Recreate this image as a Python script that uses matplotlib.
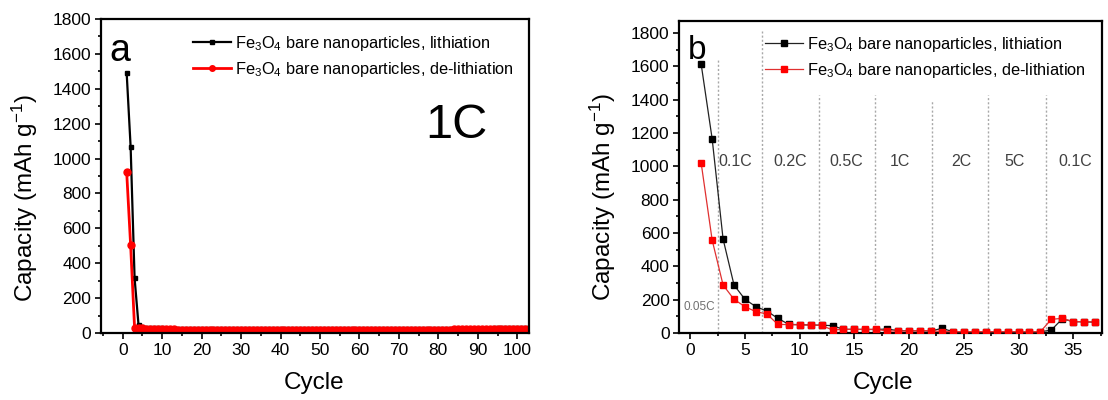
import matplotlib
matplotlib.use("Agg")
import matplotlib.pyplot as plt
from matplotlib.ticker import MultipleLocator

plt.rcParams['font.family'] = ['Liberation Sans', 'DejaVu Sans']
plt.rcParams['mathtext.fontset'] = 'custom'
plt.rcParams['mathtext.rm'] = 'Liberation Sans'
plt.rcParams['mathtext.it'] = 'Liberation Sans:italic'

# panel a : 1C cycling
cycle_a = list(range(1, 104))
lith_a = [1488, 1066, 315, 46, 36, 31, 28, 27, 26, 26,
          25, 25, 25, 24, 24, 24, 24, 24, 24, 24,
          24, 24, 23, 23, 23, 23, 23, 23, 23, 23,
          23, 23, 23, 23, 23, 23, 23, 23, 23, 23,
          23, 22, 22, 22, 22, 22, 22, 22, 22, 22,
          22, 22, 22, 22, 22, 22, 22, 22, 22, 22,
          22, 22, 22, 22, 22, 23, 23, 23, 23, 23,
          23, 23, 23, 23, 24, 24, 24, 24, 24, 24,
          24, 24, 24, 25, 25, 25, 25, 25, 25, 25,
          25, 25, 25, 26, 26, 26, 26, 26, 26, 26,
          26, 26, 26]
delith_a = [921, 502, 28, 30, 26, 24, 23, 22, 22, 21,
            21, 21, 21, 20, 20, 20, 20, 20, 20, 20,
            20, 20, 19, 19, 19, 19, 19, 19, 19, 19,
            19, 19, 19, 19, 19, 19, 19, 19, 19, 19,
            19, 18, 18, 18, 18, 18, 18, 18, 18, 18,
            18, 18, 18, 18, 18, 18, 18, 18, 18, 18,
            18, 18, 18, 18, 18, 19, 19, 19, 19, 19,
            19, 19, 19, 19, 20, 20, 20, 20, 20, 20,
            20, 20, 20, 21, 21, 21, 21, 21, 21, 21,
            21, 21, 21, 22, 22, 22, 22, 22, 22, 22,
            22, 22, 22]

# panel b : rate capability
cycle_b = list(range(1, 38))
lith_b = [1612, 1166, 564, 288, 202, 158, 132, 88, 52, 50,
          48, 47, 44, 22, 22, 21, 21, 24, 14, 13,
          13, 12, 28, 8, 8, 8, 7, 7, 7, 7,
          7, 7, 18, 85, 68, 67, 65]
delith_b = [1019, 558, 288, 202, 158, 128, 114, 52, 50, 49,
            47, 46, 18, 22, 22, 22, 22, 12, 12, 12,
            14, 14, 8, 8, 8, 8, 8, 8, 8, 8,
            8, 8, 82, 88, 68, 68, 66]
rate_labels = ['0.1C', '0.2C', '0.5C', '1C', '2C', '5C', '0.1C']
rate_x = [4.1, 9.1, 14.3, 19.2, 24.8, 29.6, 35.2]
bounds = [2.58, 6.6, 11.8, 16.9, 22.1, 27.2, 32.5]
bound_tops = [1650, 1810, 1430, 1430, 1400, 1430, 1430]

lab1 = 'Fe$_3$O$_4$ bare nanoparticles, lithiation'
lab2 = 'Fe$_3$O$_4$ bare nanoparticles, de-lithiation'

fig = plt.figure(figsize=(11.08, 4.0), dpi=100)
ax1 = fig.add_axes([0.0912, 0.1675, 0.3863, 0.785])
ax2 = fig.add_axes([0.6131, 0.1675, 0.3812, 0.781])


def style(ax):
    for s in ax.spines.values():
        s.set_linewidth(1.6)
    ax.tick_params(which='both', direction='out', top=False, right=False,
                   labelsize=12.5, width=1.2)
    ax.tick_params(which='major', length=4, pad=3)
    ax.tick_params(which='minor', length=2.5)
    ax.set_xlabel('Cycle', fontsize=17.5)
    ax.set_ylabel('Capacity (mAh g$^{-1}$)', fontsize=17.5)


# ---- a ----
ax1.plot(cycle_a, lith_a, color='black', lw=1.6, marker='s', ms=3.5, label=lab1)
ax1.plot(cycle_a, delith_a, color='#ff0000', lw=2.0, marker='o', ms=5, label=lab2)
ax1.set_xlim(-5.5, 103)
ax1.set_ylim(0, 1800)
ax1.xaxis.set_major_locator(MultipleLocator(10))
ax1.xaxis.set_minor_locator(MultipleLocator(5))
ax1.yaxis.set_major_locator(MultipleLocator(200))
ax1.yaxis.set_minor_locator(MultipleLocator(100))
style(ax1)
ax1.xaxis.set_label_coords(0.498, -0.125)
ax1.yaxis.set_label_coords(-0.142, 0.43)
leg1 = ax1.legend(loc='upper left', bbox_to_anchor=(0.215, 0.952), frameon=False,
                  fontsize=11.8, handlelength=2.3, handletextpad=0.25,
                  labelspacing=0.42, borderpad=0, borderaxespad=0,
                  markerscale=0.8)
ax1.text(0.02, 0.955, 'a', transform=ax1.transAxes, fontsize=27,
         ha='left', va='top')
ax1.text(0.83, 0.66, '1C', transform=ax1.transAxes, fontsize=35,
         ha='center', va='center')

# ---- b ----
for bx, top in zip(bounds, bound_tops):
    ax2.plot([bx, bx], [0, top], color='#a8a8a8', lw=1.0, ls=(0, (1.5, 1.5)),
             zorder=1)
for lx, lt in zip(rate_x, rate_labels):
    ax2.text(lx, 1030, lt, fontsize=11.5, color='#404040',
             ha='center', va='center')
ax2.text(0.85, 158, '0.05C', fontsize=8.5, color='#707070',
         ha='center', va='center')
ax2.plot(cycle_b, lith_b, color='#222222', lw=0.9, marker='s', ms=5,
         mfc='black', mec='black', label=lab1, zorder=3)
ax2.plot(cycle_b, delith_b, color='#e03030', lw=0.9, marker='s', ms=5,
         mfc='#ff0000', mec='#ff0000', label=lab2, zorder=4)
ax2.set_xlim(-1, 37.6)
ax2.set_ylim(0, 1875)
ax2.xaxis.set_major_locator(MultipleLocator(5))
ax2.xaxis.set_minor_locator(MultipleLocator(2.5))
ax2.yaxis.set_major_locator(MultipleLocator(200))
ax2.yaxis.set_minor_locator(MultipleLocator(100))
style(ax2)
ax2.xaxis.set_label_coords(0.482, -0.125)
ax2.yaxis.set_label_coords(-0.145, 0.435)
ax2.legend(loc='upper left', bbox_to_anchor=(0.203, 0.955), frameon=False,
           fontsize=11.8, handlelength=2.3, handletextpad=0.25,
           labelspacing=0.42, borderpad=0, borderaxespad=0)
ax2.text(0.02, 0.955, 'b', transform=ax2.transAxes, fontsize=24,
         ha='left', va='top')

fig.savefig('out.png', dpi=100)
